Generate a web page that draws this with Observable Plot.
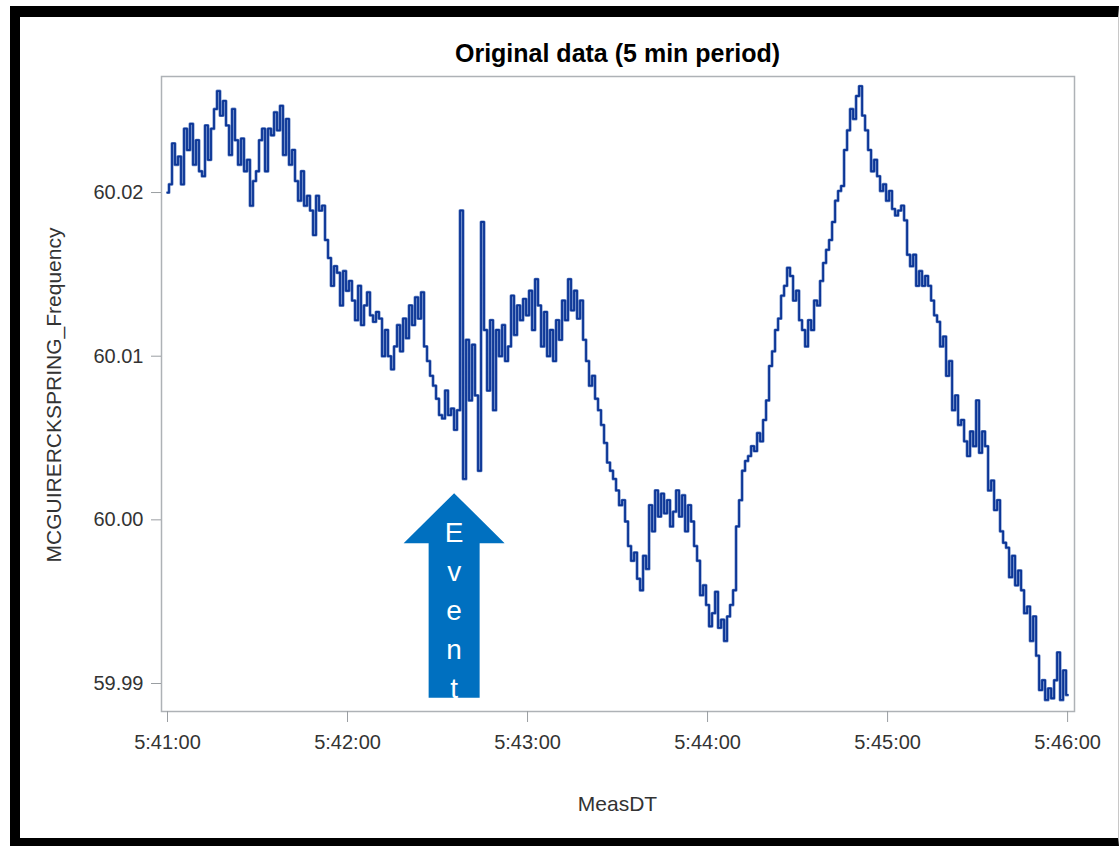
<!DOCTYPE html>
<html>
<head>
<meta charset="utf-8">
<script src="https://cdn.jsdelivr.net/npm/d3@7"></script>
<script src="https://cdn.jsdelivr.net/npm/@observablehq/plot@0.6"></script>
<style>
  html, body { margin: 0; padding: 0; background: #fff; }
  #wrap { position: relative; width: 1119px; height: 846px; overflow: hidden; font-family: "Liberation Sans", Arial, sans-serif; }
  #chart { position: absolute; left: 0; top: 0; }
  #border { position: absolute; left: 10px; top: 6px; width: 1109px; height: 840px; box-sizing: border-box;
            border-left: 10px solid #000; border-top: 11px solid #000; border-bottom: 8px solid #000; border-right: 1px solid #c8c8c8;
            pointer-events: none; }
  .title { position: absolute; left: 161px; width: 913px; top: 41px; text-align: center; font-size: 25px; line-height: 25px; font-weight: bold; color: #000; }
  .xlabel { position: absolute; left: 161px; width: 913px; top: 793px; text-align: center; font-size: 21px; line-height: 21px; color: #333; }
  .ylabel { position: absolute; left: 53px; top: 395px; font-size: 21px; line-height: 21px; color: #333; white-space: nowrap;
            transform: translate(-50%, -50%) rotate(-90deg); }
</style>
</head>
<body>
<div id="wrap">
  <div id="chart"></div>
  <div class="title">Original data (5 min period)</div>
  <div class="ylabel">MCGUIRERCKSPRING_Frequency</div>
  <div class="xlabel">MeasDT</div>
  <div id="border"></div>
</div>
<script>
// Frequency readings, one per second, starting 5:41:00
const minute1 = [
  60.0200, 60.0205, 60.0230, 60.0217, 60.0222, 60.0205, 60.0239, 60.0226, 60.0242, 60.0217,
  60.0232, 60.0213, 60.0210, 60.0241, 60.0220, 60.0239, 60.0251, 60.0262, 60.0247, 60.0256,
  60.0241, 60.0223, 60.0251, 60.0232, 60.0217, 60.0233, 60.0213, 60.0220, 60.0192, 60.0207,
  60.0213, 60.0232, 60.0239, 60.0213, 60.0239, 60.0235, 60.0249, 60.0238, 60.0253, 60.0223,
  60.0245, 60.0217, 60.0226, 60.0207, 60.0195, 60.0213, 60.0192, 60.0198, 60.0189, 60.0174,
  60.0198, 60.0189, 60.0192, 60.0171, 60.0160, 60.0143, 60.0155, 60.0151, 60.0131, 60.0152
];
const minute2 = [
  60.0140, 60.0146, 60.0134, 60.0122, 60.0143, 60.0119, 60.0131, 60.0139, 60.0125, 60.0121,
  60.0127, 60.0123, 60.0100, 60.0116, 60.0100, 60.0092, 60.0106, 60.0119, 60.0103, 60.0123,
  60.0111, 60.0131, 60.0119, 60.0136, 60.0123, 60.0139, 60.0106, 60.0097, 60.0088, 60.0082,
  60.0074, 60.0064, 60.0062, 60.0079, 60.0064, 60.0068, 60.0055, 60.0067, 60.0189, 60.0025,
  60.0110, 60.0073, 60.0107, 60.0076, 60.0030, 60.0182, 60.0116, 60.0079, 60.0122, 60.0067,
  60.0116, 60.0100, 60.0119, 60.0097, 60.0106, 60.0137, 60.0113, 60.0131, 60.0122, 60.0135
];
const minute3 = [
  60.0125, 60.0140, 60.0116, 60.0147, 60.0131, 60.0106, 60.0127, 60.0100, 60.0116, 60.0097,
  60.0122, 60.0110, 60.0134, 60.0122, 60.0147, 60.0128, 60.0140, 60.0123, 60.0134, 60.0110,
  60.0097, 60.0082, 60.0088, 60.0074, 60.0067, 60.0058, 60.0047, 60.0035, 60.0030, 60.0025,
  60.0018, 60.0009, 60.0012, 59.9999, 59.9984, 59.9975, 59.9980, 59.9964, 59.9957, 59.9978,
  59.9970, 60.0009, 59.9993, 60.0018, 60.0002, 60.0016, 60.0004, 60.0012, 59.9996, 60.0005,
  60.0018, 60.0002, 60.0015, 59.9993, 60.0009, 59.9999, 59.9984, 59.9975, 59.9954, 59.9960
];
const minute4 = [
  59.9948, 59.9935, 59.9943, 59.9956, 59.9934, 59.9939, 59.9926, 59.9941, 59.9948, 59.9957,
  59.9996, 60.0012, 60.0030, 60.0036, 60.0039, 60.0045, 60.0042, 60.0053, 60.0048, 60.0061,
  60.0073, 60.0094, 60.0103, 60.0116, 60.0123, 60.0137, 60.0143, 60.0154, 60.0149, 60.0134,
  60.0140, 60.0122, 60.0116, 60.0106, 60.0122, 60.0116, 60.0134, 60.0131, 60.0146, 60.0157,
  60.0165, 60.0171, 60.0182, 60.0195, 60.0201, 60.0204, 60.0226, 60.0238, 60.0251, 60.0245,
  60.0259, 60.0265, 60.0247, 60.0238, 60.0226, 60.0213, 60.0220, 60.0210, 60.0201, 60.0205
];
const minute5 = [
  60.0195, 60.0201, 60.0190, 60.0186, 60.0189, 60.0192, 60.0183, 60.0162, 60.0155, 60.0162,
  60.0143, 60.0152, 60.0143, 60.0149, 60.0143, 60.0134, 60.0125, 60.0121, 60.0106, 60.0112,
  60.0088, 60.0097, 60.0067, 60.0076, 60.0058, 60.0061, 60.0048, 60.0039, 60.0054, 60.0045,
  60.0073, 60.0041, 60.0054, 60.0045, 60.0018, 60.0024, 60.0006, 60.0012, 59.9993, 59.9986,
  59.9983, 59.9965, 59.9978, 59.9960, 59.9969, 59.9957, 59.9943, 59.9947, 59.9926, 59.9941,
  59.9917, 59.9896, 59.9902, 59.9890, 59.9897, 59.9891, 59.9902, 59.9919, 59.9890, 59.9908,
  59.9893
];

const xTicks = [0, 60, 120, 180, 240, 300];          // seconds after 5:41:00
const xTickLabels = ["5:41:00", "5:42:00", "5:43:00", "5:44:00", "5:45:00", "5:46:00"];
const yTicks = [59.99, 60.00, 60.01, 60.02];
const yTickLabels = ["59.99", "60.00", "60.01", "60.02"];

// Event annotation (time in seconds after 5:41:00, frequency of tip and tail)
const eventLabel = "Event";
const eventTime = 95.7;
const eventTip = 60.0016;
const eventTail = 59.9891;

const values = [...minute1, ...minute2, ...minute3, ...minute4, ...minute5];
const series = values.map((v, i) => ({t: i, v}));

const eventArrow = (index, scales) => {
  const cx = scales.x(eventTime);
  const y0 = scales.y(eventTip);
  const y1 = scales.y(eventTail);
  const headH = 50, headW = 50.5, shaftW = 25.5;
  const g = d3.create("svg:g");
  g.append("path")
    .attr("fill", "#0070C0")
    .attr("d", `M${cx},${y0} L${cx + headW},${y0 + headH} L${cx + shaftW},${y0 + headH} L${cx + shaftW},${y1} L${cx - shaftW},${y1} L${cx - shaftW},${y0 + headH} L${cx - headW},${y0 + headH} Z`);
  const letters = eventLabel.split("");
  g.selectAll("text").data(letters).join("text")
    .attr("x", cx)
    .attr("y", (d, i) => y0 + 49 + i * 39)
    .attr("text-anchor", "middle")
    .attr("fill", "#fff")
    .attr("font-size", 28)
    .attr("font-family", "'Liberation Sans', Arial, sans-serif")
    .text(d => d);
  return g.node();
};

const chart = Plot.plot({
  width: 1119,
  height: 846,
  marginLeft: 161,
  marginRight: 45,
  marginTop: 76,
  marginBottom: 135,
  style: {background: "transparent", fontFamily: "'Liberation Sans', Arial, sans-serif", color: "#333"},
  x: {domain: [-2, 302.3]},
  y: {domain: [59.98829, 60.02709]},
  marks: [
    Plot.frame({stroke: "#aeb2b6", strokeWidth: 1.5}),
    eventArrow,
    Plot.line(series, {x: "t", y: "v", stroke: "#6f8cc8", strokeWidth: 3, curve: "step"}),
    Plot.line(series, {x: "t", y: "v", stroke: "#0b3596", strokeWidth: 1.8, curve: "step"}),
    Plot.axisY({ticks: yTicks, tickFormat: d => yTickLabels[yTicks.indexOf(d)], tickSize: 10, tickPadding: 8,
                fontSize: 20, stroke: "#9a9ea2", fill: "#333", label: null}),
    Plot.axisX({ticks: xTicks, tickFormat: d => xTickLabels[xTicks.indexOf(d)], tickSize: 11, tickPadding: 12,
                fontSize: 20, stroke: "#9a9ea2", fill: "#333", label: null})
  ]
});
document.getElementById("chart").appendChild(chart);
</script>
</body>
</html>
